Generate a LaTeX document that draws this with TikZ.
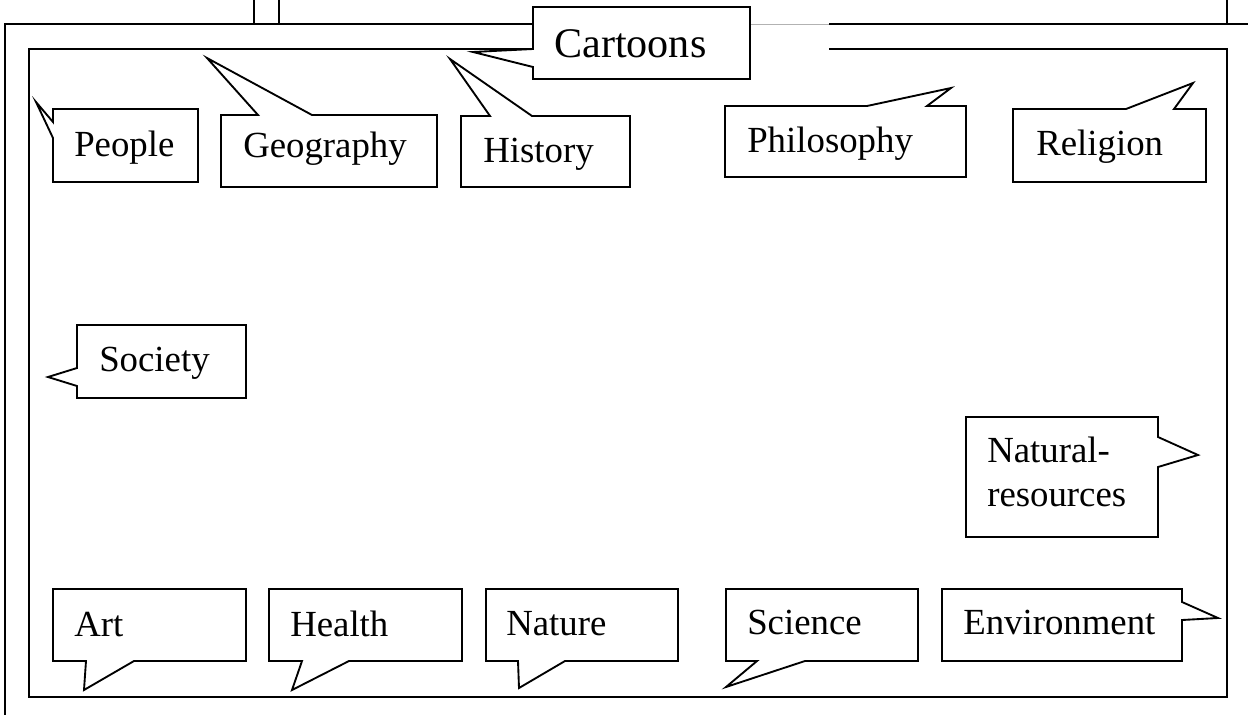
\documentclass[tikz,border=0pt]{standalone}
\usepackage{fontspec}
\setmainfont{Liberation Serif}
\begin{document}
\begin{tikzpicture}[x=0.75pt,y=-0.75pt,
  frame/.style={line width=1.4pt,black,line join=miter},
  bubble/.style={line width=1.4pt,black,fill=white,line join=miter},
  lbl/.style={anchor=base west,inner sep=0pt,font=\fontsize{27.6}{33}\selectfont},
  biglbl/.style={anchor=base west,inner sep=0pt,font=\fontsize{31.6}{38}\selectfont}]
\useasboundingbox (0,0) rectangle (1248,714);
% outer frame
\draw[frame] (254,0) -- (254,24);
\draw[frame] (279,0) -- (279,24);
\draw[frame] (1227,0) -- (1227,24);
\draw[frame] (5,730) -- (5,24) -- (533,24);
\draw[frame] (829,24) -- (1260,24);
\draw[gray!60,line width=0.5pt] (750,24) -- (829,24);
% inner frame
\draw[frame] (533,49) -- (29,49) -- (29,697) -- (1227,697) -- (1227,49) -- (829,49);
% Cartoons
\draw[bubble] (533,7) -- (750,7) -- (750,79) -- (533,79) -- (533,67) -- (473,52) -- (533,49) -- cycle;
\node[biglbl] (cartoons) at (554,57) {Cartoons};
% People
\draw[bubble] (53,109) -- (198,109) -- (198,182) -- (53,182) -- (53,138) -- (36,102) -- (53,122) -- cycle;
\node[lbl] (people) at (74,156) {People};
% Geography
\draw[bubble] (221,115) -- (258,115) -- (207,58) -- (312,115) -- (437,115) -- (437,187) -- (221,187) -- cycle;
\node[lbl] (geography) at (243,157) {Geography};
% History
\draw[bubble] (461,116) -- (490,116) -- (450,59) -- (532,116) -- (630,116) -- (630,187) -- (461,187) -- cycle;
\node[lbl] (history) at (483,162) {History};
% Philosophy
\draw[bubble] (725,106) -- (867,106) -- (951,88) -- (927,106) -- (966,106) -- (966,177) -- (725,177) -- cycle;
\node[lbl] (philosophy) at (747,152) {Philosophy};
% Religion
\draw[bubble] (1013,109) -- (1126,109) -- (1193,83) -- (1174,109) -- (1206,109) -- (1206,182) -- (1013,182) -- cycle;
\node[lbl] (religion) at (1036,155) {Religion};
% Society
\draw[bubble] (77,325) -- (246,325) -- (246,398) -- (77,398) -- (77,386) -- (48,377) -- (77,368) -- cycle;
\node[lbl] (society) at (99,371) {Society};
% Natural-resources
\draw[bubble] (966,417) -- (1158,417) -- (1158,437) -- (1198,455) -- (1158,467) -- (1158,537) -- (966,537) -- cycle;
\node[lbl,align=left] (natural) at (987,506) {Natural-\\resources};
% Art
\draw[bubble] (53,589) -- (246,589) -- (246,661) -- (134,661) -- (84,690) -- (86,661) -- (53,661) -- cycle;
\node[lbl] (art) at (74,636) {Art};
% Health
\draw[bubble] (269,589) -- (462,589) -- (462,661) -- (349,661) -- (292,690) -- (302,661) -- (269,661) -- cycle;
\node[lbl] (health) at (290,636) {Health};
% Nature
\draw[bubble] (486,589) -- (678,589) -- (678,661) -- (565,661) -- (519,688) -- (518,661) -- (486,661) -- cycle;
\node[lbl] (nature) at (506,635) {Nature};
% Science
\draw[bubble] (726,589) -- (918,589) -- (918,661) -- (805,661) -- (726,687) -- (757,661) -- (726,661) -- cycle;
\node[lbl] (science) at (747,634) {Science};
% Environment
\draw[bubble] (942,589) -- (1182,589) -- (1182,602) -- (1218,618) -- (1182,620) -- (1182,661) -- (942,661) -- cycle;
\node[lbl] (environment) at (963,634) {Environment};
\end{tikzpicture}
\end{document}
